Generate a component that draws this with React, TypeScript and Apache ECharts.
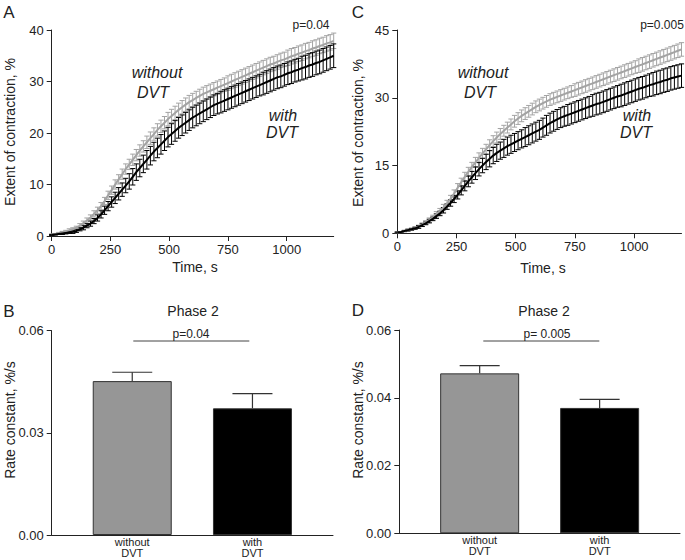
import React, { useEffect, useRef } from "react";
import * as echarts from "echarts";

// ---- data ----
const timeS = [
  0, 15, 30, 45, 60, 75, 90, 105, 120, 135,
  150, 165, 180, 195, 210, 225, 240, 255, 270, 285,
  300, 315, 330, 345, 360, 375, 390, 405, 420, 435,
  450, 465, 480, 495, 510, 525, 540, 555, 570, 585,
  600, 615, 630, 645, 660, 675, 690, 705, 720, 735,
  750, 765, 780, 795, 810, 825, 840, 855, 870, 885,
  900, 915, 930, 945, 960, 975, 990, 1005, 1020, 1035,
  1050, 1065, 1080, 1095, 1110, 1125, 1140, 1155, 1170, 1185,
  1200,
];

const aWithoutMean = [
  0.3, 0.4, 0.5, 0.7, 0.9, 1.1, 1.3, 1.6, 2.0, 2.5,
  3.0, 3.6, 4.3, 5.0, 5.8, 6.8, 7.9, 8.9, 10.0, 11.0,
  12.0, 13.0, 13.9, 14.8, 15.7, 16.6, 17.4, 18.2, 19.0, 19.8,
  20.6, 21.3, 22.0, 22.7, 23.3, 23.9, 24.5, 25.0, 25.5, 26.0,
  26.4, 26.8, 27.2, 27.6, 27.9, 28.2, 28.5, 28.8, 29.1, 29.4,
  29.7, 30.0, 30.3, 30.6, 30.9, 31.2, 31.5, 31.8, 32.1, 32.4,
  32.7, 33.0, 33.3, 33.5, 33.8, 34.1, 34.3, 34.6, 34.9, 35.1,
  35.4, 35.6, 35.9, 36.1, 36.4, 36.6, 36.9, 37.1, 37.4, 37.6,
  37.9,
];
const aWithoutErr = [
  0.1, 0.1, 0.2, 0.2, 0.2, 0.3, 0.3, 0.3, 0.4, 0.4,
  0.5, 0.5, 0.6, 0.6, 0.7, 0.7, 0.8, 0.8, 0.9, 0.9,
  1.0, 1.0, 1.0, 1.1, 1.1, 1.1, 1.1, 1.2, 1.2, 1.2,
  1.2, 1.2, 1.2, 1.3, 1.3, 1.3, 1.3, 1.3, 1.3, 1.3,
  1.3, 1.3, 1.3, 1.3, 1.3, 1.3, 1.3, 1.3, 1.3, 1.3,
  1.4, 1.4, 1.4, 1.4, 1.4, 1.4, 1.4, 1.4, 1.4, 1.4,
  1.4, 1.4, 1.4, 1.4, 1.4, 1.4, 1.4, 1.5, 1.5, 1.5,
  1.5, 1.5, 1.5, 1.5, 1.5, 1.5, 1.5, 1.5, 1.5, 1.5,
  1.5,
];
const aWithMean = [
  0.2, 0.3, 0.4, 0.5, 0.6, 0.7, 0.8, 1.0, 1.3, 1.6,
  2.0, 2.4, 2.9, 3.5, 4.2, 5.0, 5.8, 6.6, 7.4, 8.2,
  9.0, 9.8, 10.6, 11.5, 12.4, 13.2, 14.0, 14.8, 15.6, 16.4,
  17.1, 17.8, 18.5, 19.2, 19.8, 20.4, 21.0, 21.5, 22.0, 22.5,
  23.0, 23.4, 23.8, 24.2, 24.6, 25.0, 25.4, 25.7, 26.0, 26.3,
  26.6, 26.9, 27.2, 27.5, 27.8, 28.1, 28.4, 28.7, 29.0, 29.3,
  29.6, 29.9, 30.2, 30.5, 30.8, 31.0, 31.3, 31.6, 31.8, 32.1,
  32.3, 32.6, 32.8, 33.1, 33.3, 33.6, 33.8, 34.1, 34.4, 34.7,
  35.0,
];
const aWithErr = [
  0.1, 0.1, 0.1, 0.2, 0.2, 0.2, 0.3, 0.3, 0.3, 0.4,
  0.4, 0.5, 0.5, 0.6, 0.7, 0.8, 0.9, 1.0, 1.1, 1.2,
  1.3, 1.4, 1.5, 1.6, 1.6, 1.7, 1.7, 1.8, 1.8, 1.8,
  1.9, 1.9, 1.9, 1.9, 2.0, 2.0, 2.0, 2.0, 2.0, 2.0,
  2.0, 2.0, 2.0, 2.0, 2.0, 2.0, 2.0, 2.0, 2.1, 2.1,
  2.1, 2.1, 2.1, 2.1, 2.1, 2.1, 2.1, 2.1, 2.1, 2.1,
  2.2, 2.2, 2.2, 2.2, 2.2, 2.2, 2.2, 2.2, 2.2, 2.2,
  2.2, 2.3, 2.3, 2.3, 2.3, 2.3, 2.3, 2.3, 2.3, 2.3,
  2.3,
];

const cWithoutMean = [
  0.2, 0.3, 0.5, 0.7, 0.9, 1.2, 1.5, 1.9, 2.4, 2.9,
  3.5, 4.2, 4.9, 5.7, 6.6, 7.6, 8.8, 10.1, 11.3, 12.5,
  13.6, 14.7, 15.7, 16.7, 17.7, 18.6, 19.5, 20.4, 21.2, 22.0,
  22.7, 23.4, 24.1, 24.8, 25.4, 26.0, 26.5, 27.0, 27.5, 28.0,
  28.4, 28.8, 29.2, 29.6, 29.9, 30.2, 30.5, 30.8, 31.1, 31.4,
  31.7, 32.0, 32.3, 32.6, 32.9, 33.2, 33.5, 33.8, 34.1, 34.4,
  34.7, 35.0, 35.3, 35.6, 35.9, 36.2, 36.5, 36.8, 37.1, 37.4,
  37.7, 38.0, 38.3, 38.6, 38.9, 39.2, 39.5, 39.8, 40.1, 40.4,
  40.7,
];
const cWithoutErr = [
  0.1, 0.1, 0.2, 0.2, 0.2, 0.3, 0.3, 0.4, 0.4, 0.5,
  0.5, 0.6, 0.6, 0.7, 0.7, 0.8, 0.8, 0.9, 0.9, 1.0,
  1.0, 1.0, 1.1, 1.1, 1.1, 1.1, 1.2, 1.2, 1.2, 1.2,
  1.2, 1.2, 1.2, 1.3, 1.3, 1.3, 1.3, 1.3, 1.3, 1.3,
  1.3, 1.3, 1.3, 1.3, 1.3, 1.3, 1.3, 1.3, 1.3, 1.3,
  1.4, 1.4, 1.4, 1.4, 1.4, 1.4, 1.4, 1.4, 1.4, 1.4,
  1.4, 1.4, 1.4, 1.4, 1.4, 1.4, 1.4, 1.4, 1.5, 1.5,
  1.5, 1.5, 1.5, 1.5, 1.5, 1.5, 1.5, 1.5, 1.5, 1.5,
  1.5,
];
const cWithMean = [
  0.2, 0.3, 0.5, 0.7, 0.9, 1.1, 1.4, 1.8, 2.2, 2.7,
  3.2, 3.8, 4.4, 5.1, 5.9, 6.7, 7.6, 8.5, 9.5, 10.5,
  11.5, 12.4, 13.3, 14.2, 15.0, 15.8, 16.5, 17.2, 17.8, 18.3,
  18.8, 19.3, 19.7, 20.1, 20.5, 20.9, 21.3, 21.7, 22.1, 22.5,
  22.9, 23.4, 23.9, 24.4, 24.8, 25.2, 25.6, 25.9, 26.2, 26.5,
  26.8, 27.1, 27.4, 27.7, 28.0, 28.3, 28.6, 28.8, 29.1, 29.4,
  29.7, 30.0, 30.3, 30.5, 30.8, 31.1, 31.4, 31.7, 32.0, 32.2,
  32.5, 32.8, 33.0, 33.3, 33.5, 33.8, 34.0, 34.3, 34.5, 34.7,
  34.9,
];
const cWithErr = [
  0.1, 0.1, 0.1, 0.2, 0.2, 0.2, 0.3, 0.3, 0.3, 0.4,
  0.4, 0.5, 0.5, 0.6, 0.6, 0.7, 0.8, 0.9, 1.0, 1.1,
  1.2, 1.3, 1.4, 1.5, 1.6, 1.7, 1.8, 1.8, 1.9, 1.9,
  2.0, 2.0, 2.0, 2.0, 2.0, 2.0, 2.1, 2.1, 2.1, 2.1,
  2.1, 2.1, 2.2, 2.2, 2.2, 2.2, 2.2, 2.2, 2.3, 2.3,
  2.3, 2.3, 2.3, 2.3, 2.3, 2.4, 2.4, 2.4, 2.4, 2.4,
  2.4, 2.4, 2.4, 2.5, 2.5, 2.5, 2.5, 2.5, 2.5, 2.5,
  2.5, 2.5, 2.6, 2.6, 2.6, 2.6, 2.6, 2.6, 2.6, 2.6,
  2.6,
];

const timeTicks = [0, 250, 500, 750, 1000];
const barCategories = ["without\nDVT", "with\nDVT"];
const barPositions = [0, 1];
const bMeans = [0.0452, 0.0372];
const bErrs = [0.0026, 0.0043];
const dMeans = [0.0472, 0.037];
const dErrs = [0.0023, 0.0025];

// ---- styling ----
const FONT = "'Liberation Sans', Arial, Helvetica, sans-serif";
const GRAY = "#a3a3a3";
const BAR_GRAY = "#969696";
const AXIS = "#222222";

const curveErrRender = (color: string) => (params: any, api: any) => {
  const x = api.value(0);
  const m = api.value(1);
  const e = api.value(2);
  const top = api.coord([x, m + e]);
  const bot = api.coord([x, m - e]);
  const h = 2.6;
  const st = { stroke: color, lineWidth: 1 };
  return {
    type: "group",
    children: [
      { type: "line", shape: { x1: top[0], y1: top[1], x2: bot[0], y2: bot[1] }, style: st },
      { type: "line", shape: { x1: top[0] - h, y1: top[1], x2: top[0] + h, y2: top[1] }, style: st },
      { type: "line", shape: { x1: bot[0] - h, y1: bot[1], x2: bot[0] + h, y2: bot[1] }, style: st },
    ],
  };
};

const barErrRender = (params: any, api: any) => {
  const x = api.value(0);
  const m = api.value(1);
  const e = api.value(2);
  const top = api.coord([x, m + e]);
  const base = api.coord([x, m]);
  const h = 20;
  const st = { stroke: "#333333", lineWidth: 1.2 };
  return {
    type: "group",
    children: [
      { type: "line", shape: { x1: top[0], y1: top[1], x2: base[0], y2: base[1] }, style: st },
      { type: "line", shape: { x1: top[0] - h, y1: top[1], x2: top[0] + h, y2: top[1] }, style: st },
    ],
  };
};

const triples = (t: number[], m: number[], e: number[]) => t.map((v, i) => [v, m[i], e[i]]);
const pairs = (t: number[], m: number[]) => t.map((v, i) => [v, m[i]]);

const timeAxis = (gridIndex: number) => ({
  type: "value",
  gridIndex,
  min: 0,
  max: 1200,
  axisLine: { show: true, onZero: false, lineStyle: { color: AXIS, width: 1 } },
  axisTick: { show: true, length: 5, customValues: timeTicks, lineStyle: { color: AXIS } },
  axisLabel: {
    customValues: timeTicks,
    color: "#222",
    fontSize: 13,
    fontFamily: FONT,
    margin: 7,
    formatter: (v: number) => String(v),
  },
  splitLine: { show: false },
});

const valueYAxis = (gridIndex: number, max: number, interval: number, digits: number) => ({
  type: "value",
  gridIndex,
  min: 0,
  max,
  interval,
  axisLine: { show: true, onZero: false, lineStyle: { color: AXIS, width: 1 } },
  axisTick: { show: true, length: 5, lineStyle: { color: AXIS } },
  axisLabel: {
    color: "#222",
    fontSize: 13,
    fontFamily: FONT,
    margin: 8,
    formatter: (v: number) => v.toFixed(digits),
  },
  splitLine: { show: false },
});

const barXAxis = (gridIndex: number) => ({
  type: "value",
  gridIndex,
  min: -0.67,
  max: 1.67,
  axisLine: { show: true, onZero: false, lineStyle: { color: AXIS, width: 1 } },
  axisTick: { show: false },
  axisLabel: {
    customValues: barPositions,
    formatter: (v: number) => barCategories[Math.round(v)],
    color: "#222",
    fontSize: 11,
    lineHeight: 11,
    fontFamily: FONT,
    margin: 1,
  },
  splitLine: { show: false },
});

const txt = (x: number, y: number, text: string, size: number, extra: any = {}) => ({
  type: "text",
  x,
  y,
  style: {
    text,
    fontSize: size,
    fontFamily: FONT,
    fill: "#222",
    align: "center",
    verticalAlign: "middle",
    ...extra,
  },
});

const rotTxt = (x: number, y: number, text: string, size: number) => ({
  ...txt(x, y, text, size),
  rotation: Math.PI / 2,
});

const italic = { fontStyle: "italic", fontSize: 16 };

export default function App() {
  const ref = useRef<HTMLDivElement>(null);

  useEffect(() => {
    document.body.style.margin = "0";
    if (!ref.current) return;
    const chart = echarts.init(ref.current, undefined, { renderer: "svg" });

    const option: any = {
      animation: false,
      backgroundColor: "#ffffff",
      grid: [
        { left: 51.7, top: 30, width: 282, height: 206 },
        { left: 397.3, top: 30, width: 284.2, height: 203.3 },
        { left: 51.7, top: 330.7, width: 281.3, height: 204.3 },
        { left: 399.3, top: 330, width: 280.7, height: 203.3 },
      ],
      xAxis: [timeAxis(0), timeAxis(1), barXAxis(2), barXAxis(3)],
      yAxis: [
        valueYAxis(0, 40, 10, 0),
        valueYAxis(1, 45, 15, 0),
        valueYAxis(2, 0.06, 0.03, 2),
        valueYAxis(3, 0.06, 0.02, 2),
      ],
      series: [
        // Panel A
        {
          type: "custom", xAxisIndex: 0, yAxisIndex: 0,
          renderItem: curveErrRender(GRAY),
          data: triples(timeS, aWithoutMean, aWithoutErr),
          encode: { x: 0, y: 1 },
        },
        {
          type: "line", xAxisIndex: 0, yAxisIndex: 0, showSymbol: false, symbol: "none",
          data: pairs(timeS, aWithoutMean),
          lineStyle: { color: GRAY, width: 2 },
        },
        {
          type: "custom", xAxisIndex: 0, yAxisIndex: 0,
          renderItem: curveErrRender("#000"),
          data: triples(timeS, aWithMean, aWithErr),
          encode: { x: 0, y: 1 },
        },
        {
          type: "line", xAxisIndex: 0, yAxisIndex: 0, showSymbol: false, symbol: "none",
          data: pairs(timeS, aWithMean),
          lineStyle: { color: "#000", width: 2 },
        },
        // Panel C
        {
          type: "custom", xAxisIndex: 1, yAxisIndex: 1,
          renderItem: curveErrRender(GRAY),
          data: triples(timeS, cWithoutMean, cWithoutErr),
          encode: { x: 0, y: 1 },
        },
        {
          type: "line", xAxisIndex: 1, yAxisIndex: 1, showSymbol: false, symbol: "none",
          data: pairs(timeS, cWithoutMean),
          lineStyle: { color: GRAY, width: 2 },
        },
        {
          type: "custom", xAxisIndex: 1, yAxisIndex: 1,
          renderItem: curveErrRender("#000"),
          data: triples(timeS, cWithMean, cWithErr),
          encode: { x: 0, y: 1 },
        },
        {
          type: "line", xAxisIndex: 1, yAxisIndex: 1, showSymbol: false, symbol: "none",
          data: pairs(timeS, cWithMean),
          lineStyle: { color: "#000", width: 2 },
        },
        // Panel B
        {
          type: "bar", xAxisIndex: 2, yAxisIndex: 2, barWidth: 79,
          data: barPositions.map((p, i) => ({
            value: [p, bMeans[i]],
            itemStyle: { color: i === 0 ? BAR_GRAY : "#000", borderColor: "#333", borderWidth: 1 },
          })),
        },
        {
          type: "custom", xAxisIndex: 2, yAxisIndex: 2,
          renderItem: barErrRender,
          data: triples(barPositions, bMeans, bErrs),
          encode: { x: 0, y: 1 },
          z: 3,
        },
        // Panel D
        {
          type: "bar", xAxisIndex: 3, yAxisIndex: 3, barWidth: 79,
          data: barPositions.map((p, i) => ({
            value: [p, dMeans[i]],
            itemStyle: { color: i === 0 ? BAR_GRAY : "#000", borderColor: "#333", borderWidth: 1 },
          })),
        },
        {
          type: "custom", xAxisIndex: 3, yAxisIndex: 3,
          renderItem: barErrRender,
          data: triples(barPositions, dMeans, dErrs),
          encode: { x: 0, y: 1 },
          z: 3,
        },
      ],
      graphic: [
        // Panel A
        txt(9, 12, "A", 17),
        txt(311, 25, "p=0.04", 12),
        rotTxt(9.5, 132, "Extent of contraction, %", 14),
        txt(195, 267, "Time, s", 14),
        txt(157, 72, "without", 16, italic),
        txt(153, 92, "DVT", 16, italic),
        txt(283, 115, "with", 16, italic),
        txt(282, 132, "DVT", 16, italic),
        // Panel C
        txt(358, 12, "C", 17),
        txt(662, 25, "p=0.005", 12),
        rotTxt(358.3, 133, "Extent of contraction, %", 14),
        txt(543, 268, "Time, s", 14),
        txt(483, 72, "without", 16, italic),
        txt(480, 92, "DVT", 16, italic),
        txt(637, 115, "with", 16, italic),
        txt(636, 132, "DVT", 16, italic),
        // Panel B
        txt(9, 311, "B", 17),
        txt(193, 311, "Phase 2", 14),
        rotTxt(10, 420, "Rate constant, %/s", 14),
        {
          type: "line",
          shape: { x1: 133.3, y1: 341, x2: 249.3, y2: 341 },
          style: { stroke: "#444", lineWidth: 1 },
        },
        txt(191, 334, "p=0.04", 12),
        // Panel D
        txt(358, 310, "D", 17),
        txt(544, 311, "Phase 2", 14),
        rotTxt(358.3, 420, "Rate constant, %/s", 14),
        {
          type: "line",
          shape: { x1: 483.3, y1: 341, x2: 599.3, y2: 341 },
          style: { stroke: "#444", lineWidth: 1 },
        },
        txt(547, 334, "p= 0.005", 12),
      ],
    };

    chart.setOption(option);
    return () => {
      chart.dispose();
    };
  }, []);

  return <div ref={ref} style={{ width: 685, height: 560, background: "#fff" }} />;
}
